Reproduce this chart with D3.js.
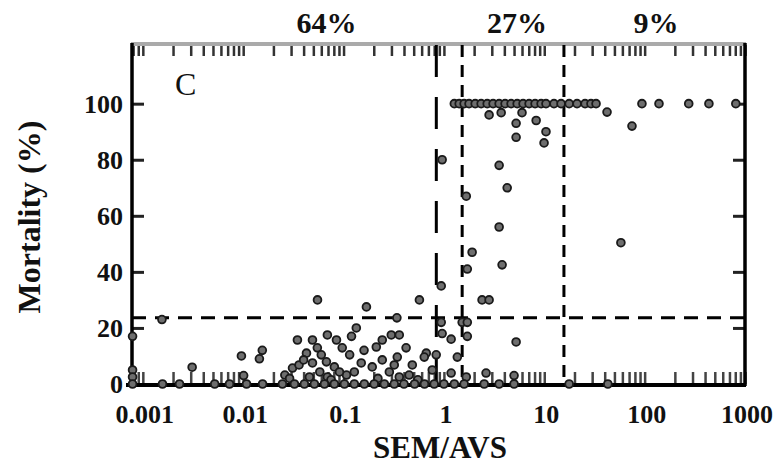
<!DOCTYPE html>
<html>
<head>
<meta charset="utf-8">
<script src="https://cdn.jsdelivr.net/npm/d3@7"></script>
<style>
  body { margin: 0; background: #fff; }
  text { font-family: "Liberation Serif", "DejaVu Serif", serif; }
</style>
</head>
<body>
<div id="svgCanvas"></div>
<script>
const width = 777, height = 468
const plot = {left: 132, right: 745, top: 43, bottom: 385}

// SEM/AVS ratio (x) and mortality in % (y)
const semAvs = [
    // the row at 100 %
    1.27, 1.42, 1.59, 1.78, 2.05, 2.35, 2.7, 3.09, 3.55, 4.07, 4.67, 5.37, 6.15, 7.06, 8.1, 9.3, 10.4,
    12.5, 14.7, 17.7, 21.2, 25.5, 29.2, 32.8, 42.2, 94, 139, 275, 437, 810,
    // upper right scatter
    2.82, 3.72, 6.0, 8.3, 5.24, 5.24, 10.4, 9.95, 74.8, 3.55, 4.27, 1.67, 0.96, 3.55, 1.91, 3.8, 1.71,
    58, 0.94, 0.57, 2.4, 2.82, 0.94, 1.52, 1.71, 0.96, 1.18, 1.71, 5.24, 5.0,
    // around the cut-offs, low mortality
    0.667, 0.838, 1.36, 0.765, 1.18, 1.67, 2.63,
    // low left scatter
    0.055, 0.169, 0.34, 0.134, 0.12, 0.00155, 0.00079, 0.0096, 0.0155, 0.0145, 0.0031, 0.0101, 0.00079, 0.00079,
    0.0347, 0.049, 0.069, 0.085, 0.097, 0.0548, 0.0427, 0.031, 0.036, 0.049, 0.0675, 0.081, 0.0457, 0.069,
    0.107, 0.15, 0.193, 0.243, 0.212, 0.243, 0.299, 0.359, 0.42, 0.343, 0.484, 0.637,
    0.058, 0.091, 0.286, 0.359, 0.128, 0.026,
    0.04, 0.06, 0.115, 0.16, 0.32, 0.45, 0.029, 0.075, 0.22, 0.55,
    // the row at 0 %
    0.00079, 0.00157, 0.00232, 0.0052, 0.0073, 0.0108, 0.0156, 0.0246, 0.0324, 0.0407, 0.0512, 0.0645,
    0.081, 0.102, 0.128, 0.161, 0.202, 0.255, 0.32, 0.4, 0.51, 0.64, 0.8, 1.0, 1.27, 1.59, 2.52, 3.55,
    5.0, 17.7, 43
]
const mortality = [
    100, 100, 100, 100, 100, 100, 100, 100, 100, 100, 100, 100, 100, 100, 100, 100, 100,
    100, 100, 100, 100, 100, 100, 100, 97, 100, 100, 100, 100, 100,
    96, 96.8, 96.8, 94, 93, 88, 90, 86, 92, 78, 70, 67, 80, 56, 47, 42.5, 41,
    50.4, 35, 30, 30, 30, 22, 22, 22, 18, 16, 17, 15, 3,
    11, 10.4, 9.6, 5, 3.9, 2.5, 3.9,
    30, 27.5, 23.6, 20, 17, 23, 17, 10, 12, 9, 6, 3, 5, 2.5,
    15.7, 15.7, 17.5, 15.7, 12.9, 12.9, 11, 5.7, 6.8, 7.5, 7.9, 6.1, 2.5, 2.5,
    3.2, 7.5, 6.1, 8.6, 13.2, 15.7, 17.5, 17.5, 12.9, 9.6, 6.8, 9.6,
    4.3, 4.3, 4.3, 2.5, 4.3, 3.2,
    8.6, 10.4, 10.4, 12, 6.8, 3.2, 2, 1.5, 2, 1.5,
    0, 0, 0, 0, 0, 0, 0, 0, 0, 0, 0, 0,
    0, 0, 0, 0, 0, 0, 0, 0, 0, 0, 0, 0, 0, 0, 0, 0,
    0, 0, 0
]

// cut-offs drawn as dashed lines
const ratioCuts = [0.84, 1.52, 15.7]
const ratioDash = ["32,20", "12,8", "12,8"]
const mortalityCut = 23.6

// the shares printed above the frame
const shareLabels = ["64%", "27%", "9%"]
const shareAt = [0.0675, 5.36, 130]

const xTicks = [0.001, 0.01, 0.1, 1, 10, 100, 1000]
const xTickLabels = ["0.001", "0.01", "0.1", "1", "10", "100", "1000"]
const yTicks = [0, 20, 40, 60, 80, 100]

const xScale = d3.scaleLog().domain([0.00078, 1000]).range([plot.left, plot.right])
const yScale = d3.scaleLinear().domain([0, 122]).range([plot.bottom - 1, plot.top - 1])

let svg = d3.select("#svgCanvas")
    .append("svg")
    .attr("xmlns", "http://www.w3.org/2000/svg")
    .attr("width", width)
    .attr("height", height)

svg.append("rect").attr("width", width).attr("height", height).attr("fill", "#fff")

// minor log ticks, 1..9 per decade
let minorTicks = []
for (let d = -4; d <= 3; d++) {
    for (let k = 1; k <= 9; k++) {
        const v = k * Math.pow(10, d)
        if (v >= 0.0008 && v <= 1000) minorTicks.push(v)
    }
}

function drawLine(x1, y1, x2, y2, color, w, dash) {
    svg.append("line")
        .attr("x1", x1).attr("y1", y1)
        .attr("x2", x2).attr("y2", y2)
        .attr("stroke", color)
        .attr("stroke-width", w)
        .attr("stroke-dasharray", dash || null)
}

// top and bottom log ticks
svg.append("g")
    .attr("transform", "translate(0," + (plot.top + 2) + ")")
    .call(d3.axisBottom(xScale).tickValues(minorTicks).tickSize(11).tickFormat(""))
    .call(g => g.select(".domain").remove())
    .call(g => g.selectAll("line").attr("stroke", "#333").attr("stroke-width", 2.5))

svg.append("g")
    .attr("transform", "translate(0," + (plot.bottom - 1) + ")")
    .call(d3.axisTop(xScale).tickValues(minorTicks).tickSize(12).tickFormat(""))
    .call(g => g.select(".domain").remove())
    .call(g => g.selectAll("line").attr("stroke", "#444").attr("stroke-width", 2.5))

// y ticks on both sides, pointing inward
svg.append("g")
    .attr("transform", "translate(" + plot.left + ",0)")
    .call(d3.axisRight(yScale).tickValues(yTicks).tickSize(12).tickFormat(""))
    .call(g => g.select(".domain").remove())
    .call(g => g.selectAll("line").attr("stroke", "#222").attr("stroke-width", 3))

svg.append("g")
    .attr("transform", "translate(" + plot.right + ",0)")
    .call(d3.axisLeft(yScale).tickValues(yTicks).tickSize(12).tickFormat(""))
    .call(g => g.select(".domain").remove())
    .call(g => g.selectAll("line").attr("stroke", "#222").attr("stroke-width", 3))

// frame
drawLine(plot.left - 1, plot.top + 1, plot.right + 1, plot.top + 1, "#aaa", 4)
drawLine(plot.left, plot.top, plot.left, plot.bottom + 1, "#000", 3.5)
drawLine(plot.right, plot.top, plot.right, plot.bottom + 1, "#000", 3.5)
drawLine(plot.left - 6, plot.bottom, plot.right + 1, plot.bottom, "#000", 4)

// dashed cut-offs
ratioCuts.forEach((c, i) => {
    drawLine(xScale(c), plot.top + 2, xScale(c), plot.bottom, "#000", 3, ratioDash[i])
})
drawLine(plot.left, yScale(mortalityCut), plot.right, yScale(mortalityCut), "#000", 3, "14,9")

// points
svg.append("g")
    .selectAll("circle")
    .data(semAvs.map((s, i) => ({x: s, y: mortality[i]})))
    .enter().append("circle")
    .attr("cx", d => xScale(d.x))
    .attr("cy", d => yScale(d.y))
    .attr("r", 3.9)
    .attr("fill", "#6e6e6e")
    .attr("stroke", "#1a1a1a")
    .attr("stroke-width", 1.8)

// tick labels
svg.append("g")
    .selectAll("text")
    .data(xTicks)
    .enter().append("text")
    .attr("x", d => xScale(d) + 2)
    .attr("y", 423)
    .attr("text-anchor", "middle")
    .attr("font-size", 26)
    .attr("font-weight", "bold")
    .attr("fill", "#111")
    .text((d, i) => xTickLabels[i])

svg.append("g")
    .selectAll("text")
    .data(yTicks)
    .enter().append("text")
    .attr("x", 123)
    .attr("y", d => yScale(d) + 9)
    .attr("text-anchor", "end")
    .attr("font-size", 26)
    .attr("font-weight", "bold")
    .attr("fill", "#111")
    .text(d => d)

// shares over the frame
svg.append("g")
    .selectAll("text")
    .data(shareLabels)
    .enter().append("text")
    .attr("x", (d, i) => xScale(shareAt[i]))
    .attr("y", 33)
    .attr("text-anchor", "middle")
    .attr("font-size", 30)
    .attr("font-weight", "bold")
    .attr("fill", "#111")
    .text(d => d)

svg.append("text")
    .attr("x", 175)
    .attr("y", 95)
    .attr("font-size", 32)
    .attr("fill", "#111")
    .text("C")

svg.append("text")
    .attr("x", 440)
    .attr("y", 458)
    .attr("text-anchor", "middle")
    .attr("font-size", 31)
    .attr("font-weight", "bold")
    .attr("fill", "#111")
    .text("SEM/AVS")

svg.append("text")
    .attr("transform", "translate(40,217) rotate(-90)")
    .attr("text-anchor", "middle")
    .attr("font-size", 32)
    .attr("font-weight", "bold")
    .attr("fill", "#111")
    .text("Mortality (%)")
</script>
</body>
</html>
